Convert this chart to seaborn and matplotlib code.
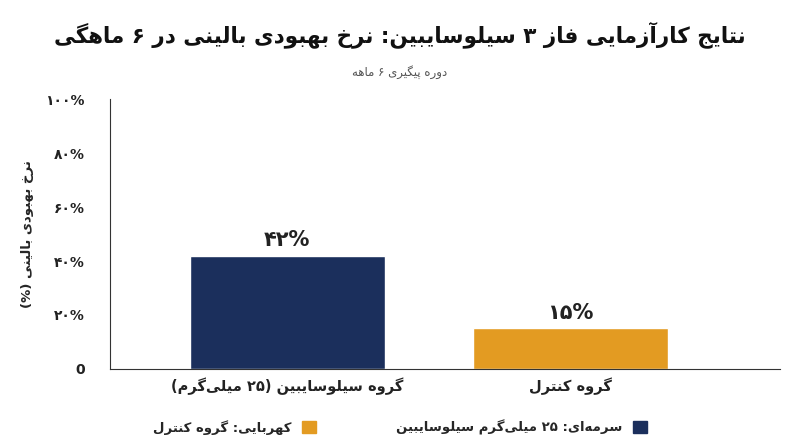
import matplotlib
matplotlib.use("Agg")
import matplotlib.pyplot as plt
import seaborn as sns
import pandas as pd
from matplotlib.patches import Patch

# ---- minimal Persian shaping for matplotlib ----
FORMS = {
 'ا':(0xFE8D,0xFE8E,None,None),'آ':(0xFE81,0xFE82,None,None),
 'ب':(0xFE8F,0xFE90,0xFE91,0xFE92),'پ':(0xFB56,0xFB57,0xFB58,0xFB59),
 'ت':(0xFE95,0xFE96,0xFE97,0xFE98),'ث':(0xFE99,0xFE9A,0xFE9B,0xFE9C),
 'ج':(0xFE9D,0xFE9E,0xFE9F,0xFEA0),'چ':(0xFB7A,0xFB7B,0xFB7C,0xFB7D),
 'ح':(0xFEA1,0xFEA2,0xFEA3,0xFEA4),'خ':(0xFEA5,0xFEA6,0xFEA7,0xFEA8),
 'د':(0xFEA9,0xFEAA,None,None),'ذ':(0xFEAB,0xFEAC,None,None),
 'ر':(0xFEAD,0xFEAE,None,None),'ز':(0xFEAF,0xFEB0,None,None),
 'ژ':(0xFB8A,0xFB8B,None,None),
 'س':(0xFEB1,0xFEB2,0xFEB3,0xFEB4),'ش':(0xFEB5,0xFEB6,0xFEB7,0xFEB8),
 'ف':(0xFED1,0xFED2,0xFED3,0xFED4),'ق':(0xFED5,0xFED6,0xFED7,0xFED8),
 'ک':(0xFB8E,0xFB8F,0xFB90,0xFB91),'گ':(0xFB92,0xFB93,0xFB94,0xFB95),
 'ل':(0xFEDD,0xFEDE,0xFEDF,0xFEE0),'م':(0xFEE1,0xFEE2,0xFEE3,0xFEE4),
 'ن':(0xFEE5,0xFEE6,0xFEE7,0xFEE8),'و':(0xFEED,0xFEEE,None,None),
 'ه':(0xFEE9,0xFEEA,0xFEEB,0xFEEC),'ی':(0xFBFC,0xFBFD,0xFBFE,0xFBFF),
}
def dual(c): return c in FORMS and FORMS[c][2] is not None
def fa(s):
    out = []
    for i, c in enumerate(s):
        if c == '\u200c':
            continue
        if c not in FORMS:
            out.append(c); continue
        p = s[i-1] if i > 0 else ''
        n = s[i+1] if i+1 < len(s) else ''
        jp = dual(p)
        jn = dual(c) and n in FORMS
        f = FORMS[c]
        if jp and jn: out.append(chr(f[3]))
        elif jp: out.append(chr(f[1]))
        elif jn: out.append(chr(f[2]))
        else: out.append(chr(f[0]))
    r = ''.join(reversed(out))
    digits = set('0123456789۰۱۲۳۴۵۶۷۸۹')
    res, i = [], 0
    while i < len(r):
        if r[i] in digits:
            j = i
            while j < len(r) and r[j] in digits: j += 1
            res.append(r[i:j][::-1]); i = j
        else:
            res.append({'(': ')', ')': '('}.get(r[i], r[i])); i += 1
    return ''.join(res)

# ---- data ----
categories = ["گروه سیلوسایبین (۲۵ میلی‌گرم)", "گروه کنترل"]
values = [42, 15]
value_labels = ["۴۲%", "۱۵%"]
ytick_vals = [0, 20, 40, 60, 80, 100]
ytick_labels = ["0", "۲۰%", "۴۰%", "۶۰%", "۸۰%", "۱۰۰%"]
colors = ["#1b2f5c", "#e39b22"]
title = "نتایج کارآزمایی فاز ۳ سیلوسایبین: نرخ بهبودی بالینی در ۶ ماهگی"
subtitle = "دوره پیگیری ۶ ماهه"
ylabel = "نرخ بهبودی بالینی (%)"
legend_labels = ["کهربایی: گروه کنترل", "سرمه‌ای: ۲۵ میلی‌گرم سیلوسایبین"]

sns.set_style("white")
plt.rcParams['font.family'] = ['DejaVu Sans']

df = pd.DataFrame({"cat": [fa(c) for c in categories], "val": values})
fig = plt.figure(figsize=(8, 4.47), dpi=100)
ax = fig.add_axes([0.1375, 0.175, 0.8375, 0.6025])
sns.barplot(data=df, x="cat", y="val", hue="cat", palette=colors, width=0.69,
            legend=False, ax=ax, saturation=1)
ax.set_xlim(-0.626, 1.74)
ax.set_ylim(0, 100)
ax.set_yticks(ytick_vals)
ax.set_yticklabels(ytick_labels, fontweight="bold", fontsize=10, color="#222")
ax.tick_params(axis='x', labelsize=10.5, length=0, pad=6)
for t in ax.get_xticklabels():
    t.set_fontweight("bold"); t.set_color("#222")
ax.tick_params(axis='y', length=0, pad=18)
ax.set_xlabel("")
ax.set_ylabel(fa(ylabel), fontweight="bold", fontsize=9.5, labelpad=8)
for s in ["top", "right"]:
    ax.spines[s].set_visible(False)
ax.spines["left"].set_color("#333")
ax.spines["bottom"].set_color("#333")
for i, (v, lab) in enumerate(zip(values, value_labels)):
    ax.text(i, v + 2, lab, ha="center", va="bottom", fontsize=15, fontweight="bold", color="#222")

fig.text(0.5, 0.905, fa(title), ha="center", fontsize=15.5, fontweight="bold", color="#111")
fig.text(0.5, 0.83, fa(subtitle), ha="center", fontsize=8.5, color="#555")

handles = [Patch(color=colors[1]), Patch(color=colors[0])]
fig.legend(handles, [fa(l) for l in legend_labels], loc="lower center",
           bbox_to_anchor=(0.5, 0.0), ncol=2, frameon=False, markerfirst=False,
           prop={"weight": "bold", "size": 9.5}, handlelength=1.1, handleheight=1.1,
           columnspacing=6)
fig.savefig("out.png", dpi=100)
